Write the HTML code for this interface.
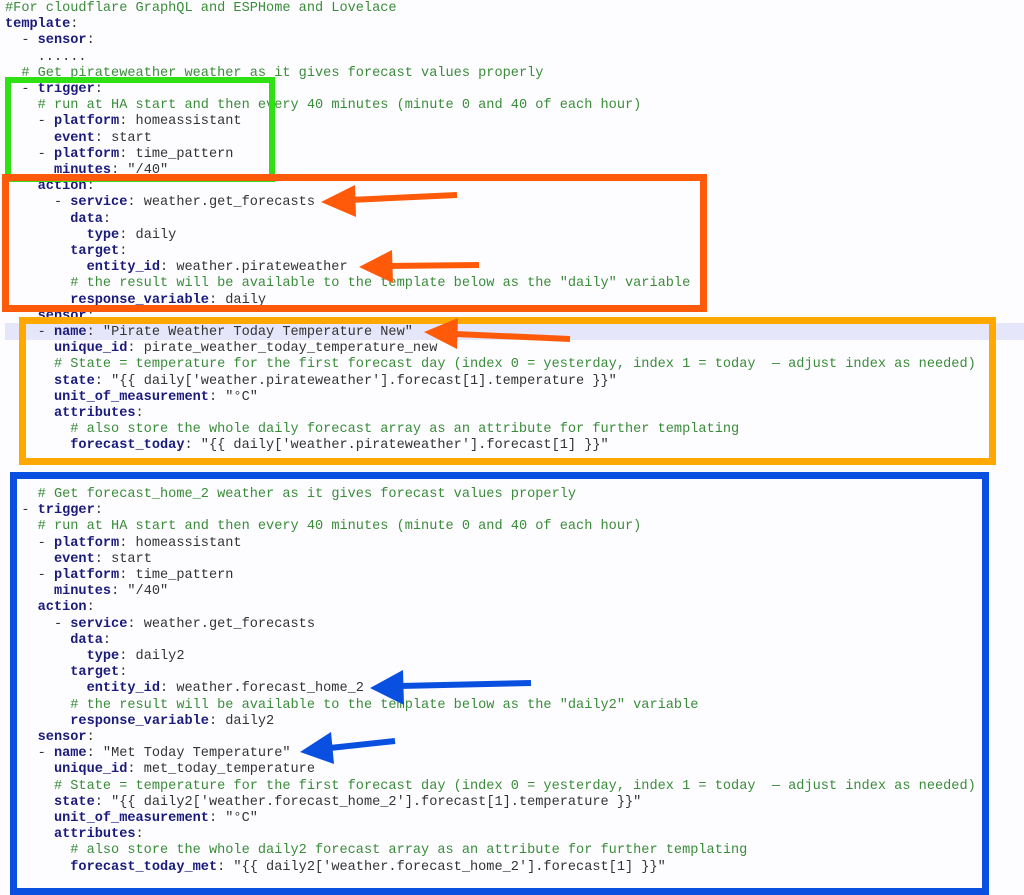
<!DOCTYPE html>
<html><head><meta charset="utf-8"><style>
body{margin:0;width:1024px;height:895px;background:#fdfdff;position:relative;overflow:hidden;font-family:"Liberation Mono",monospace;font-size:13.6px;}
.l{position:absolute;left:5px;height:16.2px;line-height:16.2px;white-space:pre;color:#333;}
.k{color:#1a1a7c;font-weight:bold}
.c{color:#3a8c3a}
.b{position:absolute;box-sizing:border-box}
</style></head><body>
<div class="b" style="left:5px;top:323px;width:1019px;height:17px;background:#e6e6fa"></div>
<div id="t"></div>
<div class="b" style="left:5px;top:77px;width:270px;height:105px;border:6px solid #2ee014"></div>
<div class="b" style="left:2px;top:174px;width:705px;height:138px;border:7px solid #ff5a0a"></div>
<div class="b" style="left:19px;top:317px;width:977px;height:148px;border:7px solid #ffa800"></div>
<div class="b" style="left:10px;top:472px;width:979px;height:423px;border:7px solid #0a50e0"></div>
<svg width="1024" height="895" style="position:absolute;left:0;top:0">
<g fill="#ff5a0a" stroke="#ff5a0a">
<line x1="457" y1="195" x2="350" y2="200" stroke-width="6"/><polygon points="321,202 355,185 356,217" stroke="none"/>
<line x1="479" y1="265" x2="385" y2="266" stroke-width="6"/><polygon points="359,267 392,250 393,283" stroke="none"/>
<line x1="570" y1="339" x2="455" y2="334" stroke-width="6"/><polygon points="424,332 458,318 457,349" stroke="none"/>
</g>
<g fill="#0a50e0" stroke="#0a50e0">
<line x1="531" y1="683" x2="400" y2="686" stroke-width="6"/><polygon points="370,688 403,670 404,705" stroke="none"/>
<line x1="395" y1="741" x2="330" y2="748" stroke-width="6"/><polygon points="300,752 331,732 334,764" stroke="none"/>
</g>
</svg>
<script>
const L=[
'<span class="c">#For cloudflare GraphQL and ESPHome and Lovelace</span>',
'<span class="k">template</span>:',
'  - <span class="k">sensor</span>:',
'    ......',
'  <span class="c"># Get pirateweather weather as it gives forecast values properly</span>',
'  - <span class="k">trigger</span>:',
'    <span class="c"># run at HA start and then every 40 minutes (minute 0 and 40 of each hour)</span>',
'    - <span class="k">platform</span>: homeassistant',
'      <span class="k">event</span>: start',
'    - <span class="k">platform</span>: time_pattern',
'      <span class="k">minutes</span>: "/40"',
'    <span class="k">action</span>:',
'      - <span class="k">service</span>: weather.get_forecasts',
'        <span class="k">data</span>:',
'          <span class="k">type</span>: daily',
'        <span class="k">target</span>:',
'          <span class="k">entity_id</span>: weather.pirateweather',
'        <span class="c"># the result will be available to the template below as the "daily" variable</span>',
'        <span class="k">response_variable</span>: daily',
'    <span class="k">sensor</span>:',
'    - <span class="k">name</span>: "Pirate Weather Today Temperature New"',
'      <span class="k">unique_id</span>: pirate_weather_today_temperature_new',
'      <span class="c"># State = temperature for the first forecast day (index 0 = yesterday, index 1 = today  — adjust index as needed)</span>',
'      <span class="k">state</span>: "{{ daily[\'weather.pirateweather\'].forecast[1].temperature }}"',
'      <span class="k">unit_of_measurement</span>: "°C"',
'      <span class="k">attributes</span>:',
'        <span class="c"># also store the whole daily forecast array as an attribute for further templating</span>',
'        <span class="k">forecast_today</span>: "{{ daily[\'weather.pirateweather\'].forecast[1] }}"',
'',
'',
'    <span class="c"># Get forecast_home_2 weather as it gives forecast values properly</span>',
'  - <span class="k">trigger</span>:',
'    <span class="c"># run at HA start and then every 40 minutes (minute 0 and 40 of each hour)</span>',
'    - <span class="k">platform</span>: homeassistant',
'      <span class="k">event</span>: start',
'    - <span class="k">platform</span>: time_pattern',
'      <span class="k">minutes</span>: "/40"',
'    <span class="k">action</span>:',
'      - <span class="k">service</span>: weather.get_forecasts',
'        <span class="k">data</span>:',
'          <span class="k">type</span>: daily2',
'        <span class="k">target</span>:',
'          <span class="k">entity_id</span>: weather.forecast_home_2',
'        <span class="c"># the result will be available to the template below as the "daily2" variable</span>',
'        <span class="k">response_variable</span>: daily2',
'    <span class="k">sensor</span>:',
'    - <span class="k">name</span>: "Met Today Temperature"',
'      <span class="k">unique_id</span>: met_today_temperature',
'      <span class="c"># State = temperature for the first forecast day (index 0 = yesterday, index 1 = today  — adjust index as needed)</span>',
'      <span class="k">state</span>: "{{ daily2[\'weather.forecast_home_2\'].forecast[1].temperature }}"',
'      <span class="k">unit_of_measurement</span>: "°C"',
'      <span class="k">attributes</span>:',
'        <span class="c"># also store the whole daily2 forecast array as an attribute for further templating</span>',
'        <span class="k">forecast_today_met</span>: "{{ daily2[\'weather.forecast_home_2\'].forecast[1] }}"'
];
let h='';L.forEach((s,i)=>{h+='<div class="l" style="top:'+(i*16.2+1).toFixed(1)+'px">'+s+'</div>';});
document.getElementById('t').innerHTML=h;
</script>
</body></html>
